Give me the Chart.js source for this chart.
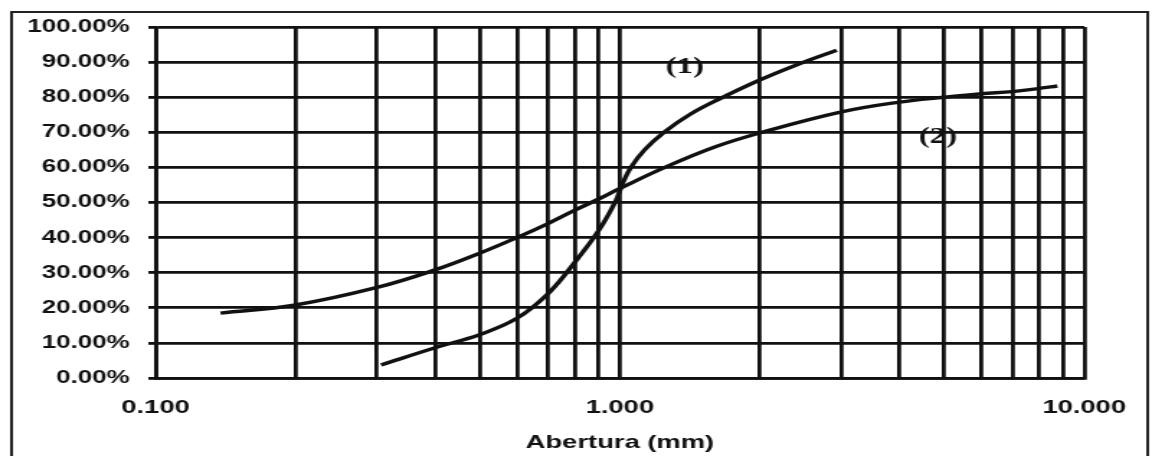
<!DOCTYPE html>
<html lang="pt">
<head>
<meta charset="utf-8">
<title>Curva granulométrica</title>
<script src="https://cdn.jsdelivr.net/npm/chart.js@4.4.1/dist/chart.umd.min.js"></script>
<style>
    html, body { margin: 0; padding: 0; background: #fff; }
</style>
</head>
<body>
<!-- canvas desenhado a 800px e esticado para 1152px, como na figura original -->
<canvas id="chart" width="800" height="456" style="display:block;width:1152px;height:456px"></canvas>
<script>
// Curva (1) - abertura (mm) e % passante
const sizes1 = [0.306, 0.4, 0.5, 0.6, 0.7, 0.8, 0.9, 0.98, 1.014, 1.056, 1.13, 1.25, 1.42, 1.62, 2.0, 2.4, 2.93];
const pass1 = [3.7, 8.6, 12.4, 17, 24, 33, 42, 50.5, 55.5, 60, 65, 70.2, 75.2, 79.2, 84.9, 89.2, 93.4];

// Curva (2)
const sizes2 = [0.138, 0.2, 0.3, 0.4, 0.5, 0.6, 0.7, 0.8, 0.9, 1.0, 1.25, 1.6, 2.0, 3.0, 4.0, 5.0, 6.0, 7.0, 8.0, 8.75];
const pass2 = [18.5, 20.8, 25.8, 30.8, 35.6, 40, 44, 47.8, 51, 54, 60, 65.8, 69.8, 75.8, 78.6, 80, 81, 81.6, 82.5, 83.2];

// Linhas de grade do eixo log e rótulos mostrados
const xGridValues = [0.1, 0.2, 0.3, 0.4, 0.5, 0.6, 0.7, 0.8, 0.9, 1, 2, 3, 4, 5, 6, 7, 8, 9, 10];
const xLabelValues = [0.1, 1, 10];

// Identificação das curvas
const curveLabels = ['(1)', '(2)'];
const curveLabelX = [1.38, 4.84];
const curveLabelY = [88.6, 68.7];

const INK = '#111';

function toPoints(xs, ys) {
    return xs.map((x, i) => ({ x: x, y: ys[i] }));
}

// Moldura externa da figura
const framePlugin = {
    id: 'frame',
    beforeDraw(chart) {
        const ctx = chart.ctx;
        ctx.save();
        ctx.fillStyle = '#fff';
        ctx.fillRect(0, 0, chart.width, chart.height);
        ctx.strokeStyle = '#222';
        ctx.lineWidth = 2;
        ctx.strokeRect(8, 12, 789, 500);
        ctx.restore();
    }
};

// Rótulos (1) e (2) posicionados pelas escalas
const curveLabelPlugin = {
    id: 'curveLabels',
    afterDatasetsDraw(chart) {
        const { ctx, scales } = chart;
        ctx.save();
        ctx.font = 'bold 23px "Liberation Serif", serif';
        ctx.fillStyle = INK;
        ctx.textAlign = 'center';
        ctx.textBaseline = 'middle';
        curveLabels.forEach((txt, i) => {
            ctx.fillText(txt, scales.x.getPixelForValue(curveLabelX[i]), scales.y.getPixelForValue(curveLabelY[i]));
        });
        ctx.restore();
    }
};

const lineStyle = {
    borderColor: INK,
    borderWidth: 3.4,
    pointRadius: 0,
    fill: false,
    tension: 0.4
};

new Chart(document.getElementById('chart').getContext('2d'), {
    type: 'line',
    data: {
        datasets: [
            { label: '(1)', data: toPoints(sizes1, pass1), ...lineStyle },
            { label: '(2)', data: toPoints(sizes2, pass2), ...lineStyle }
        ]
    },
    options: {
        responsive: false,
        devicePixelRatio: 1,
        animation: false,
        layout: { padding: { left: 0, right: 44, top: 27, bottom: 0 } },
        plugins: {
            legend: { display: false },
            tooltip: { enabled: false }
        },
        scales: {
            x: {
                type: 'logarithmic',
                min: 0.1,
                max: 10,
                afterBuildTicks: (scale) => {
                    scale.ticks = xGridValues.map(v => ({ value: v }));
                },
                afterFit: (scale) => { scale.height = 78; },
                grid: { color: INK, lineWidth: 2.8, drawTicks: false },
                border: { color: INK, width: 2.8 },
                ticks: {
                    autoSkip: false,
                    maxRotation: 0,
                    padding: 18,
                    color: INK,
                    font: { family: '"Liberation Sans", Arial, sans-serif', size: 19, weight: 'bold' },
                    callback: (value) => xLabelValues.some(v => Math.abs(v - value) < 1e-9) ? Number(value).toFixed(3) : ''
                },
                title: {
                    display: true,
                    text: 'Abertura (mm)',
                    color: INK,
                    padding: { top: 0, bottom: 2 },
                    font: { family: '"Liberation Sans", Arial, sans-serif', size: 19, weight: 'bold' }
                }
            },
            y: {
                min: 0,
                max: 100,
                afterFit: (scale) => { scale.width = 108; },
                grid: { color: INK, lineWidth: 2.8, tickLength: 5 },
                border: { color: INK, width: 2.8 },
                ticks: {
                    stepSize: 10,
                    padding: 13,
                    color: INK,
                    font: { family: '"Liberation Sans", Arial, sans-serif', size: 18, weight: 'bold' },
                    callback: (value) => value.toFixed(2) + '%'
                }
            }
        }
    },
    plugins: [framePlugin, curveLabelPlugin]
});
</script>
</body>
</html>
